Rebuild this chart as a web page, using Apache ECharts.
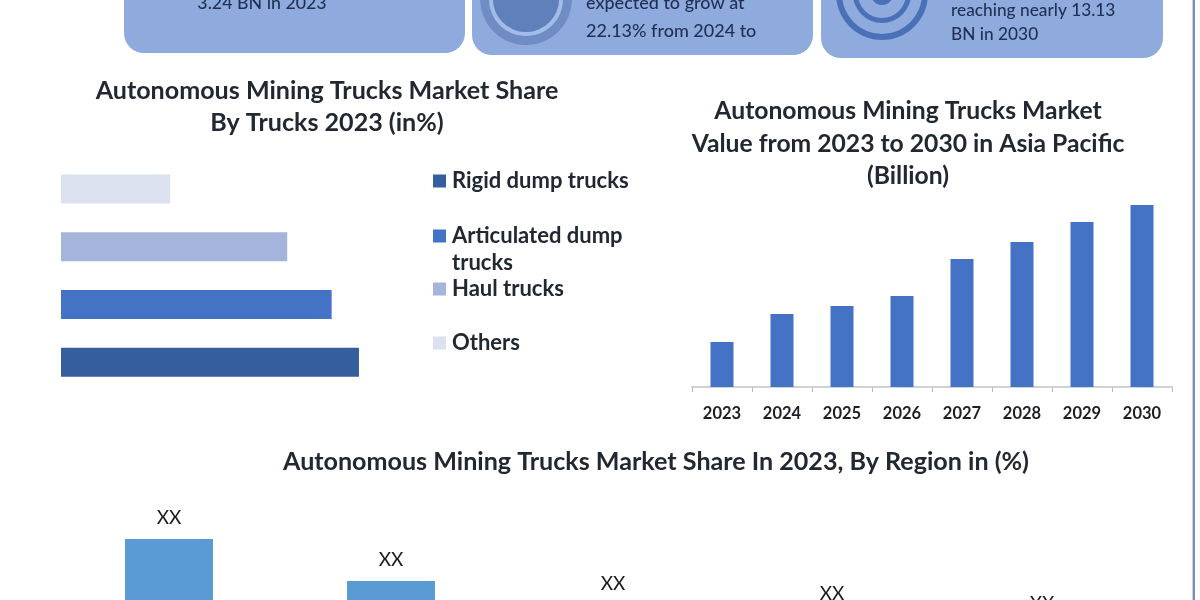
<!DOCTYPE html>
<html>
<head>
<meta charset="utf-8">
<style>html,body{margin:0;padding:0;background:#fff}#chart{width:1200px;height:600px}</style>
<script src="https://cdn.jsdelivr.net/npm/echarts@6/dist/echarts.min.js"></script>
</head>
<body>
<div id="chart"></div>
<script>
// Share by truck type, 2023 (%)
const truckTypes = ['Rigid dump trucks', 'Articulated dump trucks', 'Haul trucks', 'Others'];
const truckShares = [38.2, 34.7, 29, 14];
const truckColors = ['#355e9e', '#4472c4', '#a5b4da', '#dbe1ef'];

// Asia Pacific market value (Billion)
const years = ['2023', '2024', '2025', '2026', '2027', '2028', '2029', '2030'];
const yearValues = [2.25, 3.65, 4.05, 4.55, 6.4, 7.25, 8.25, 9.1];

// Share by region, 2023 (%)
const regions = ['North America', 'Asia Pacific', 'Europe', 'Middle East and Africa', 'South America'];
const regionShares = [80.5, 59.5, 47.5, 42.5, 37.5];
const regionLabels = ['XX', 'XX', 'XX', 'XX', 'XX'];

const FONT = 'Lato, "Open Sans", sans-serif';
const INK = '#222831';
const CARD = '#8faadc';

function card(x, w, bottom) {
  return { type: 'rect', silent: true, z: 1,
    shape: { x: x, y: -30, width: w, height: bottom + 30, r: 20 },
    style: { fill: CARD } };
}
function ring(cx, cy, r, r0, fill) {
  return { type: 'ring', silent: true, z: 2,
    shape: { cx: cx, cy: cy, r: r, r0: r0 }, style: { fill: fill } };
}
function disc(cx, cy, r, fill) {
  return { type: 'circle', silent: true, z: 2,
    shape: { cx: cx, cy: cy, r: r }, style: { fill: fill } };
}
function cardText(text, x, y, size, align) {
  return { type: 'text', silent: true, z: 3, x: x, y: y,
    style: { text: text, fill: '#1f3054', font: '500 ' + size + 'px ' + FONT,
      textAlign: align || 'left', textVerticalAlign: 'middle' } };
}
function heading(text, x, y, size) {
  return { type: 'text', silent: true, z: 3, x: x, y: y,
    style: { text: text, fill: INK, font: 'bold ' + size + 'px ' + FONT,
      textAlign: 'center', textVerticalAlign: 'middle' } };
}

const legendRows = [177, 232, 285, 339];

const option = {
  animation: false,
  backgroundColor: '#ffffff',
  textStyle: { fontFamily: FONT },
  grid: [
    { left: 61, top: 160, width: 390, height: 231 },
    { left: 692, top: 187, width: 480, height: 200 },
    // The region chart's baseline sits below the visible area
    { left: 58, top: 500, width: 1110, height: 200, outerBoundsMode: 'none' }
  ],
  legend: truckTypes.map((name, i) => ({
    data: [name],
    left: 428,
    top: legendRows[i] - 12,
    itemWidth: 13,
    itemHeight: 13,
    itemGap: 0,
    icon: 'rect',
    selectedMode: false,
    formatter: n => (n.startsWith('Articulated') ? 'Articulated dump' : n),
    textStyle: { fontFamily: FONT, fontWeight: 'bold', fontSize: 22, color: INK, padding: [0, 0, 0, 1] }
  })),
  xAxis: [
    { gridIndex: 0, type: 'value', min: 0, max: 50, show: false },
    { gridIndex: 1, type: 'category', data: years,
      axisLine: { show: true, lineStyle: { color: '#cfd2d6', width: 2 } },
      axisTick: { show: true, alignWithLabel: false, length: 5, lineStyle: { color: '#b8bcc2' } },
      axisLabel: { color: '#1c1f24', fontWeight: 'bold', fontSize: 16.5, fontFamily: FONT, margin: 18 } },
    { gridIndex: 2, type: 'category', data: regions, show: false }
  ],
  yAxis: [
    { gridIndex: 0, type: 'category', data: truckTypes, show: false },
    { gridIndex: 1, type: 'value', min: 0, max: 10, show: false },
    { gridIndex: 2, type: 'value', min: 0, max: 100, show: false }
  ],
  series: [
    ...truckTypes.map((name, i) => ({
      type: 'bar', name: name, xAxisIndex: 0, yAxisIndex: 0, stack: 'trucks',
      barWidth: 29,
      itemStyle: { color: truckColors[i] },
      data: truckTypes.map((_, j) => (j === i ? truckShares[i] : null))
    })),
    { type: 'bar', name: 'Market value', xAxisIndex: 1, yAxisIndex: 1, barWidth: 23,
      itemStyle: { color: '#4472c4' }, data: yearValues },
    { type: 'bar', name: 'Region share', xAxisIndex: 2, yAxisIndex: 2, barWidth: 88,
      itemStyle: { color: '#5b9bd5' },
      label: { show: true, position: 'top', distance: 12,
        formatter: p => regionLabels[p.dataIndex],
        color: '#1a1a1a', fontSize: 19, fontFamily: FONT },
      // The two rightmost labels sit a little left of their columns
      data: regionShares.map((value, i) => (
        i < 3 ? value : { value: value, label: { offset: [i === 3 ? -3 : -15, 0] } }
      )) }
  ],
  graphic: { elements: [
    card(124, 341, 53), card(472, 341, 55), card(821, 342, 58),

    ring(526, -1, 46, 37, '#6f8dc4'),
    ring(526, -1, 37, 33, '#a3bbe8'),
    disc(526, -1, 33, '#5f80bb'),

    ring(882, -6, 46, 40, '#4a70b8'),
    ring(882, -6, 29, 24, '#4a70b8'),
    disc(882, -6, 11, '#4a70b8'),

    cardText('3.24 BN in 2023', 262, 3, 17.8, 'center'),
    cardText('expected to grow at', 586, 3, 18),
    cardText('22.13% from 2024 to', 586, 31, 18),
    cardText('reaching nearly 13.13', 951, 10, 17.3),
    cardText('BN in 2030', 951, 34, 17.3),

    heading('Autonomous Mining Trucks Market Share', 327, 91, 25.1),
    heading('By Trucks 2023 (in%)', 327, 123, 25.1),
    heading('Autonomous Mining Trucks Market', 908, 111, 24.7),
    heading('Value from 2023 to 2030 in Asia Pacific', 908, 144, 24.7),
    heading('(Billion)', 908, 176, 24.7),
    heading('Autonomous Mining Trucks Market Share In 2023, By Region in (%)', 656, 462, 25.1),

    { type: 'text', silent: true, z: 3, x: 452, y: 263,
      style: { text: 'trucks', fill: INK, font: 'bold 22px ' + FONT,
        textAlign: 'left', textVerticalAlign: 'middle' } },

    { type: 'rect', silent: true, z: 0,
      shape: { x: 1192, y: 0, width: 1, height: 600 }, style: { fill: '#c5d3e8' } },
    { type: 'rect', silent: true, z: 0,
      shape: { x: 1193, y: 0, width: 2, height: 600 }, style: { fill: '#7a8fae' } }
  ] }
};

echarts.init(document.getElementById('chart'), null, { renderer: 'canvas' }).setOption(option);
</script>
</body>
</html>
